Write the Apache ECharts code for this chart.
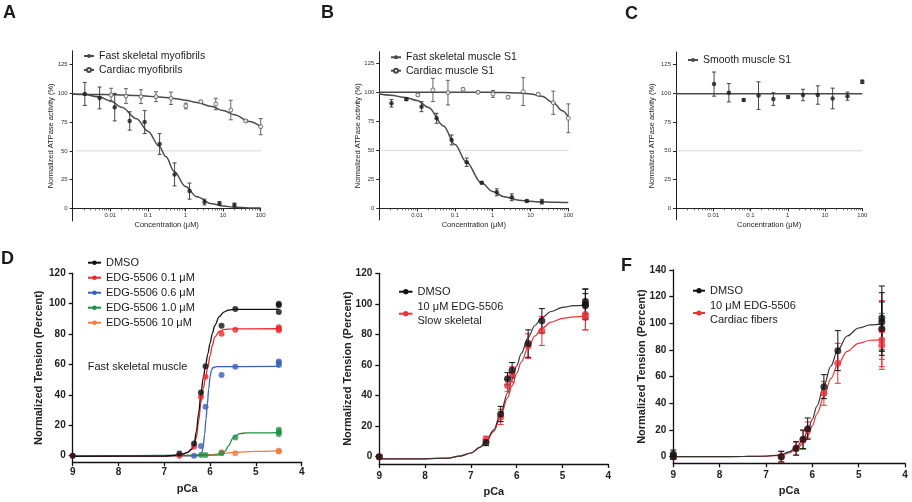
<!DOCTYPE html>
<html><head><meta charset="utf-8">
<script src="https://cdn.jsdelivr.net/npm/echarts@6/dist/echarts.min.js"></script>
<style>html,body{margin:0;padding:0;background:#fff}#c{width:912px;height:502px}</style>
</head><body><div id="c"></div><script>
// ---------- Panel A ----------
const concFastA = [0.0021, 0.0052, 0.0131, 0.0328, 0.082, 0.205, 0.512, 1.28, 3.2, 8, 20];
const actFastA  = [99.5, 96, 88, 76, 75, 56, 29.5, 15, 5.5, 4.3, 3];
const errFastA  = [10, 9.5, 12, 8, 10, 9, 10, 7, 2.5, 1.5, 1.5];
const concCardA = [0.0105, 0.0262, 0.0655, 0.164, 0.41, 1.02, 2.56, 6.4, 16, 40, 100];
const actCardA  = [98.6, 97.7, 97.1, 97.1, 95.7, 89, 92.8, 90.7, 85.5, 76, 71];
const errCardA  = [5.8, 6.4, 6, 4.3, 5.4, 2.5, 1, 5, 8.5, 1, 7];
const fitXA     = [0.001, 0.002, 0.005, 0.01, 0.02, 0.05, 0.1, 0.2, 0.3, 0.5, 1, 2, 5, 10, 20, 50, 100];
const fitFastA  = [99.5, 99, 97, 93.5, 88, 78, 67, 54, 45, 32, 19, 10, 4, 2, 1, 0.4, 0.2];
const fitCardA  = [99.3, 99.2, 99, 98.8, 98.6, 98.2, 97.5, 96.8, 96.4, 95.6, 94, 92, 88.5, 85, 81.5, 75.5, 71];
// ---------- Panel B ----------
const concFastB = [0.0021, 0.0052, 0.0131, 0.0328, 0.082, 0.205, 0.512, 1.28, 3.2, 8, 20];
const actFastB  = [90.5, 94, 87.6, 77.6, 58.9, 39.7, 22, 13.8, 9.5, 6.3, 5.7];
const errFastB  = [3.2, 1, 4.3, 4.3, 4.3, 3.6, 1, 3, 3, 1, 2];
const concCardB = [0.0105, 0.0262, 0.0655, 0.164, 0.41, 1.02, 2.56, 6.4, 16, 40, 100];
const actCardB  = [97.7, 102, 99.7, 102.6, 100, 98.6, 95.7, 100.6, 98.3, 91, 77.6];
const errCardB  = [1, 10, 10.6, 1, 1, 3, 1, 12, 1, 10, 12.4];
const fitXB     = [0.001, 0.002, 0.005, 0.01, 0.02, 0.05, 0.1, 0.2, 0.5, 1, 2, 5, 10, 20, 40, 70, 100];
const fitFastB  = [98.5, 97.5, 95.5, 93, 87, 71, 55, 40, 22, 14.5, 10, 7, 6, 5.5, 5.2, 5.1, 5];
const fitCardB  = [100, 100, 100, 100, 100, 100, 100, 100, 100, 100, 99.8, 99.4, 98.6, 96.5, 91, 84, 78.5];
// ---------- Panel C ----------
const concC = [0.0105, 0.0262, 0.0655, 0.164, 0.41, 1.02, 2.56, 6.4, 16, 40, 100];
const actC  = [108, 100.5, 94.2, 98, 95, 96.8, 98.5, 98.5, 95.5, 97.5, 110];
const errC  = [10.5, 8, 1, 12, 5.5, 1, 5, 8, 9, 3.5, 1.5];
const fitXC = [0.001, 100];
const fitC  = [99.6, 99.6];
// reference (IC50) dotted line and ticks for the top row
const refX = [0.0012, 100];
const refY = [50, 50];
const topMajor = [0.01, 0.1, 1, 10, 100];
const topMinor = [0.002,0.003,0.004,0.005,0.006,0.007,0.008,0.009,
                  0.02,0.03,0.04,0.05,0.06,0.07,0.08,0.09,
                  0.2,0.3,0.4,0.5,0.6,0.7,0.8,0.9,
                  2,3,4,5,6,7,8,9, 20,30,40,50,60,70,80,90];
const topYTicks = [0, 25, 50, 75, 100, 125];
// ---------- Panel D ----------
const pcaD00 = [9, 6.67, 6.35, 6.2, 6.1, 5.75, 5.45, 4.5, 4.5, 4.5];
const tenD00 = [0, 1.5, 8, 41.5, 58.8, 85.5, 96.5, 100, 99, 94.5];
const pcaD01 = [9, 6.67, 6.35, 6.2, 6.1, 5.75, 5.45, 4.5, 4.5, 4.5];
const tenD01 = [0, 0, 6, 38.8, 52, 80.2, 82.8, 84.5, 83.5, 82.5];
const pcaD06 = [6.35, 6.2, 6.1, 5.75, 5.45, 4.5, 4.5, 4.5];
const tenD06 = [0, 6.4, 32.2, 53, 58.5, 62, 61, 59.7];
const pcaD10 = [6.2, 6.1, 5.75, 5.45, 4.5, 4.5, 4.5];
const tenD10 = [0.5, 0.5, 1.6, 12, 17, 15.5, 14.3];
const pcaD100 = [5.75, 5.45, 4.5, 4.5];
const tenD100 = [2.2, 1.6, 3.3, 2.8];
const fitXD00 = [9, 7, 6.8, 6.6, 6.5, 6.4, 6.35, 6.3, 6.25, 6.2, 6.15, 6.1, 6.05, 6.0, 5.95, 5.9, 5.8, 5.7, 5.6, 5.5, 4.5];
const fitD00  = [-0.5, -0.3, 0.2, 1, 2.2, 4.5, 7.5, 16, 28, 41, 51, 59, 67, 74, 80.5, 85.5, 91.5, 94.5, 95.8, 96.2, 96.3];
const fitXD01 = [9, 7, 6.8, 6.6, 6.5, 6.4, 6.35, 6.3, 6.25, 6.2, 6.15, 6.1, 6.05, 6.0, 5.95, 5.9, 5.8, 5.7, 5.5, 4.5];
const fitD01  = [-0.5, -0.3, 0, 0.8, 2, 4, 6.5, 12, 23, 35, 44, 51, 58.5, 66, 72.5, 78, 81.8, 83, 83.4, 83.5];
const fitXD06 = [9, 6.3, 6.22, 6.18, 6.15, 6.12, 6.09, 6.06, 6.03, 6.0, 5.97, 5.93, 5.85, 4.5];
const fitD06  = [-0.2, -0.2, 0.5, 1.8, 6, 14, 24, 34, 44, 52, 56.5, 58, 58.6, 58.7];
const fitXD10 = [9, 5.85, 5.75, 5.67, 5.6, 5.5, 5.45, 5.35, 5.2, 4.5];
const fitD10  = [-0.3, 0.3, 1, 3, 6.5, 11.5, 13, 14.5, 15, 15.2];
const fitXD100 = [9, 6.4, 6.0, 5.75, 5.45, 5.0, 4.5];
const fitD100  = [-0.3, 0, 0.6, 1.5, 2.2, 2.8, 3.2];
const yTicksD = [0, 20, 40, 60, 80, 100, 120];
// ---------- Panel E ----------
const pcaE0 = [9, 6.67, 6.35, 6.2, 6.1, 5.75, 5.45, 4.5, 4.5, 4.5];
const tenE0 = [0, 9.2, 27.9, 51, 56.6, 74, 88.9, 101.6, 99.8, 98.7];
const errE0 = [1, 2, 5, 4, 5, 9, 8, 8, 10, 8];
const pcaE1 = [9, 6.67, 6.35, 6.2, 6.1, 5.75, 5.45, 4.5, 4.5];
const tenE1 = [0, 11.4, 26, 46.5, 53.8, 72.4, 82.3, 93, 91];
const errE1 = [1, 2, 5, 4, 5, 8, 9.5, 10, 8];
const fitXEF = [9, 8.5, 8, 7.5, 7.25, 7, 6.8, 6.67, 6.5, 6.35, 6.2, 6.1, 6.0, 5.9, 5.75, 5.6, 5.45, 5.25, 5, 4.75, 4.5];
const fitE0 = [-1.5, -1.5, -1.4, -0.9, 0.3, 2.4, 6.2, 10.2, 17.5, 28.5, 41.5, 50.5, 59.5, 67.5, 78, 86, 91, 95, 97.7, 98.8, 99.2];
const fitE1 = [-1.5, -1.5, -1.4, -0.9, 0.3, 2.3, 6, 9.8, 16.5, 26.5, 38.5, 46.5, 54.5, 62, 71.5, 79, 84, 88, 90.5, 91.5, 92];
// ---------- Panel F ----------
const pcaF0 = [9, 9, 6.67, 6.35, 6.2, 6.1, 5.75, 5.45, 4.5, 4.5, 4.5];
const tenF0 = [2, 0, 0, 6.2, 13, 21, 52.5, 79.5, 104, 101, 96];
const errF0 = [3, 2, 4, 5, 7, 8, 9, 15, 24, 22, 20];
const pcaF1 = [9, 6.67, 6.35, 6.2, 6.1, 5.75, 5.45, 4.5, 4.5, 4.5];
const tenF1 = [0, 0, 6, 12.5, 20, 47.5, 70, 95, 87.5, 83.5];
const errF1 = [2, 4, 5, 7, 6, 9, 15, 22, 20, 18];
const fitF0 = [0, 0, 0, 0.1, 0.2, 0.4, 0.9, 1.5, 3.5, 6.8, 12.6, 19, 28, 38, 53, 68, 80, 90.5, 96.5, 98.8, 99.6];
const fitF1 = [0, 0, 0, 0.1, 0.2, 0.3, 0.7, 1.2, 2.8, 5.5, 10, 15.5, 23, 32, 45, 58.5, 69, 79, 85, 87.3, 88];
const yTicksF = [0, 20, 40, 60, 80, 100, 120, 140];

// ---------- helpers ----------
const FONT = '"Liberation Sans", Arial, sans-serif';
const zip = (xs, ys) => xs.map((x, i) => [x, ys[i]]);
const zip3 = (xs, ys, es) => xs.map((x, i) => [x, ys[i], es[i]]);
function fit(name, idx, xs, ys, color, width, sym) {
  return {type: 'line', name: name, xAxisIndex: idx, yAxisIndex: idx, data: zip(xs, ys),
    smooth: 0.35, smoothMonotone: 'x', showSymbol: false, symbol: sym || 'circle',
    lineStyle: {color: color, width: width}, itemStyle: {color: color}, z: 2, silent: true};
}
function pts(idx, xs, ys, color, size, hollow) {
  return {type: 'scatter', xAxisIndex: idx, yAxisIndex: idx, data: zip(xs, ys), symbol: 'circle', symbolSize: size,
    itemStyle: hollow ? {color: '#fff', borderColor: color, borderWidth: 1} : {color: color}, z: 4, silent: true};
}
function errs(idx, xs, ys, es, color, cap, lw) {
  return {type: 'custom', xAxisIndex: idx, yAxisIndex: idx, data: zip3(xs, ys, es),
    dimensions: ['x', 'y', 'e'], encode: {x: 0, y: 1}, z: 3, silent: true,
    renderItem: function (params, api) {
      const x = api.value(0), y = api.value(1), e = api.value(2);
      const p1 = api.coord([x, y + e]), p2 = api.coord([x, y - e]);
      const st = {stroke: color, lineWidth: lw};
      return {type: 'group', children: [
        {type: 'line', shape: {x1: p1[0], y1: p1[1], x2: p2[0], y2: p2[1]}, style: st},
        {type: 'line', shape: {x1: p1[0] - cap, y1: p1[1], x2: p1[0] + cap, y2: p1[1]}, style: st},
        {type: 'line', shape: {x1: p2[0] - cap, y1: p2[1], x2: p2[0] + cap, y2: p2[1]}, style: st}
      ]};
    }};
}
function ref(idx) {
  return {type: 'line', xAxisIndex: idx, yAxisIndex: idx, data: zip(refX, refY), symbol: 'none',
    lineStyle: {type: 'dotted', color: '#9a9a9a', width: 0.8}, z: 1, silent: true};
}
// the top-row x axes sit on y = 0 (offset up from the grid bottom, which is y = min)
function logX(g, off) {
  return {type: 'log', gridIndex: g, logBase: 10, min: 0.001, max: 100, position: 'bottom', offset: off,
    axisLine: {show: true, onZero: false, lineStyle: {color: '#222', width: 1}},
    axisTick: {show: true, length: 3, customValues: topMajor, lineStyle: {color: '#222', width: 1}},
    axisLabel: {show: true, customValues: topMajor, formatter: v => String(v), fontSize: 6, margin: 4, color: '#333', fontFamily: FONT},
    minorTick: {show: false}, splitLine: {show: false},
    name: 'Concentration (μM)', nameLocation: 'middle', nameGap: 13, nameMoveOverlap: false,
    nameTextStyle: {fontSize: 7.5, color: '#222', fontFamily: FONT}};
}
function logXMinor(g, off) {
  return {type: 'log', gridIndex: g, logBase: 10, min: 0.001, max: 100, position: 'bottom', offset: off,
    axisLine: {show: false, onZero: false},
    axisTick: {show: true, length: 2, customValues: topMinor, lineStyle: {color: '#444', width: 0.8}},
    axisLabel: {show: false}, splitLine: {show: false}, minorTick: {show: false}};
}
function topY(g, min, max, gap) {
  return {type: 'value', gridIndex: g, min: min, max: max, position: 'left',
    axisLine: {show: true, onZero: false, lineStyle: {color: '#222', width: 1}},
    axisTick: {show: true, length: 3, customValues: topYTicks, lineStyle: {color: '#222', width: 1}},
    axisLabel: {customValues: topYTicks, fontSize: 6, margin: 5, color: '#333', fontFamily: FONT},
    splitLine: {show: false},
    name: 'Normalized ATPase activity (%)', nameLocation: 'middle', nameGap: gap, nameMoveOverlap: false,
    nameTextStyle: {fontSize: 7.5, color: '#222', fontFamily: FONT}};
}
function pcaX(g, margin, gap) {
  return {type: 'value', gridIndex: g, min: 4, max: 9, interval: 1, inverse: true, position: 'bottom',
    axisLine: {show: true, onZero: false, lineStyle: {color: '#111', width: 1.3}},
    axisTick: {show: true, length: 4, lineStyle: {color: '#111', width: 1.3}},
    axisLabel: {fontSize: 10, fontWeight: 'bold', color: '#222', margin: margin, fontFamily: FONT},
    splitLine: {show: false},
    name: 'pCa', nameLocation: 'middle', nameGap: gap, nameMoveOverlap: false,
    nameTextStyle: {fontSize: 11, fontWeight: 'bold', color: '#222', fontFamily: FONT}};
}
function tenY(g, min, max, ticks, gap) {
  return {type: 'value', gridIndex: g, min: min, max: max, position: 'left',
    axisLine: {show: true, onZero: false, lineStyle: {color: '#111', width: 1.3}},
    axisTick: {show: true, length: 4, customValues: ticks, lineStyle: {color: '#111', width: 1.3}},
    axisLabel: {customValues: ticks, fontSize: 10, fontWeight: 'bold', color: '#222', margin: 7, fontFamily: FONT},
    splitLine: {show: false},
    name: 'Normalized Tension (Percent)', nameLocation: 'middle', nameGap: gap, nameMoveOverlap: false,
    nameTextStyle: {fontSize: 11, fontWeight: 'bold', color: '#222', fontFamily: FONT}};
}
function legend(names, left, top, iw, ih, gap, fs, lh) {
  return {data: names, orient: 'vertical', left: left, top: top, itemWidth: iw, itemHeight: ih, itemGap: gap,
    padding: 0, selectedMode: false, textStyle: {fontSize: fs, lineHeight: lh, color: '#1a1a1a', fontFamily: FONT}};
}

const GRAY = '#4a4a4a', DARK = '#1a1a1a';
const BLK = '#111', RED = '#e82a2f', BLU = '#3d60b5', GRN = '#1f8f45', ORG = '#f37b3f', RED2 = '#e8333b';
const NE = '10 μM EDG-5506\nSlow skeletal', NF = '10 μM EDG-5506\nCardiac fibers';

const option = {
  animation: false,
  textStyle: {fontFamily: FONT},
  grid: [
    {left: 72.7, top: 50.8, width: 188, height: 170.2, outerBoundsMode: 'none'},
    {left: 379.3, top: 51.7, width: 189, height: 168.2, outerBoundsMode: 'none'},
    {left: 676, top: 51.9, width: 186.3, height: 167.9, outerBoundsMode: 'none'},
    {left: 72.7, top: 273.3, width: 229, height: 188.9, outerBoundsMode: 'none'},
    {left: 379.3, top: 273.3, width: 229, height: 190.7, outerBoundsMode: 'none'},
    {left: 673.3, top: 270, width: 231.7, height: 193.3, outerBoundsMode: 'none'}
  ],
  xAxis: [logX(0, -12.6), logX(1, -11.6), logX(2, -11.5), pcaX(3, 5, 21), pcaX(4, 7, 22), pcaX(5, 7, 22),
          logXMinor(0, -12.6), logXMinor(1, -11.6), logXMinor(2, -11.5)],
  yAxis: [topY(0, -11, 137, 17.5), topY(1, -10, 135, 17.5), topY(2, -10, 136, 20),
          tenY(3, -4.3, 120, yTicksD, 28), tenY(4, -4.8, 120, yTicksD, 26), tenY(5, -5, 140, yTicksF, 26)],
  legend: [
    legend(['Fast skeletal myofibrils', 'Cardiac myofibrils'], 83, 49, 10, 5, 0, 10.5, 14),
    legend(['Fast skeletal muscle S1', 'Cardiac muscle S1'], 390, 50.6, 10, 5, 0, 10.5, 13.4),
    legend(['Smooth muscle S1'], 687, 53, 10, 5, 0, 10.5, 14),
    legend(['DMSO', 'EDG-5506 0.1 μM', 'EDG-5506 0.6 μM', 'EDG-5506 1.0 μM', 'EDG-5506 10 μM'], 87, 255.2, 13, 5.5, 0, 11, 15),
    legend(['DMSO', NE], 398, 284.7, 13.5, 6.5, 1, 11, 14),
    legend(['DMSO', NF], 692, 283.7, 12, 6.5, 1.3, 11, 14)
  ],
  graphic: [
    {type: 'text', left: 3, top: 4, style: {text: 'A', font: 'bold 18px ' + FONT, fill: '#1a1a1a'}},
    {type: 'text', left: 321, top: 4, style: {text: 'B', font: 'bold 18px ' + FONT, fill: '#1a1a1a'}},
    {type: 'text', left: 625, top: 5, style: {text: 'C', font: 'bold 18px ' + FONT, fill: '#1a1a1a'}},
    {type: 'text', left: 1, top: 250, style: {text: 'D', font: 'bold 18px ' + FONT, fill: '#1a1a1a'}},
    {type: 'text', left: 621, top: 257, style: {text: 'F', font: 'bold 18px ' + FONT, fill: '#1a1a1a'}},
    {type: 'text', left: 87.7, top: 361, style: {text: 'Fast skeletal muscle', font: '11px ' + FONT, fill: '#1a1a1a'}}
  ],
  series: [
    // A
    ref(0),
    fit('Fast skeletal myofibrils', 0, fitXA, fitFastA, GRAY, 1.5, 'circle'),
    fit('Cardiac myofibrils', 0, fitXA, fitCardA, GRAY, 1.5, 'emptyCircle'),
    errs(0, concFastA, actFastA, errFastA, '#333', 2, 0.9),
    errs(0, concCardA, actCardA, errCardA, '#555', 2, 0.9),
    pts(0, concFastA, actFastA, DARK, 4.5, false),
    pts(0, concCardA, actCardA, '#555', 4, true),
    // B
    ref(1),
    fit('Fast skeletal muscle S1', 1, fitXB, fitFastB, GRAY, 1.5, 'circle'),
    fit('Cardiac muscle S1', 1, fitXB, fitCardB, GRAY, 1.5, 'emptyCircle'),
    errs(1, concFastB, actFastB, errFastB, '#333', 2, 0.9),
    errs(1, concCardB, actCardB, errCardB, '#555', 2, 0.9),
    pts(1, concFastB, actFastB, DARK, 4.5, false),
    pts(1, concCardB, actCardB, '#555', 4, true),
    // C
    ref(2),
    fit('Smooth muscle S1', 2, fitXC, fitC, GRAY, 1.5, 'circle'),
    errs(2, concC, actC, errC, '#333', 2, 0.9),
    pts(2, concC, actC, DARK, 4.5, false),
    // D
    fit('EDG-5506 10 μM', 3, fitXD100, fitD100, ORG, 1.3),
    fit('EDG-5506 1.0 μM', 3, fitXD10, fitD10, GRN, 1.3),
    fit('EDG-5506 0.6 μM', 3, fitXD06, fitD06, BLU, 1.3),
    fit('EDG-5506 0.1 μM', 3, fitXD01, fitD01, RED, 1.3),
    fit('DMSO', 3, fitXD00, fitD00, BLK, 1.3),
    pts(3, pcaD100, tenD100, ORG, 6),
    pts(3, pcaD10, tenD10, GRN, 6),
    pts(3, pcaD06, tenD06, BLU, 6),
    pts(3, pcaD01, tenD01, RED, 6),
    pts(3, pcaD00, tenD00, BLK, 6),
    // E
    fit(NE, 4, fitXEF, fitE1, RED2, 1.2),
    fit('DMSO', 4, fitXEF, fitE0, '#333', 1.2),
    errs(4, pcaE1, tenE1, errE1, RED2, 3, 1),
    pts(4, pcaE1, tenE1, RED2, 7),
    errs(4, pcaE0, tenE0, errE0, BLK, 3, 1),
    pts(4, pcaE0, tenE0, BLK, 7),
    // F
    fit(NF, 5, fitXEF, fitF1, RED2, 1.2),
    fit('DMSO', 5, fitXEF, fitF0, '#333', 1.2),
    errs(5, pcaF1, tenF1, errF1, RED2, 3, 1),
    pts(5, pcaF1, tenF1, RED2, 7),
    errs(5, pcaF0, tenF0, errF0, BLK, 3, 1),
    pts(5, pcaF0, tenF0, BLK, 7)
  ]
};
const chart = echarts.init(document.getElementById('c'), null, {renderer: 'canvas'});
chart.setOption(option);
</script></body></html>
